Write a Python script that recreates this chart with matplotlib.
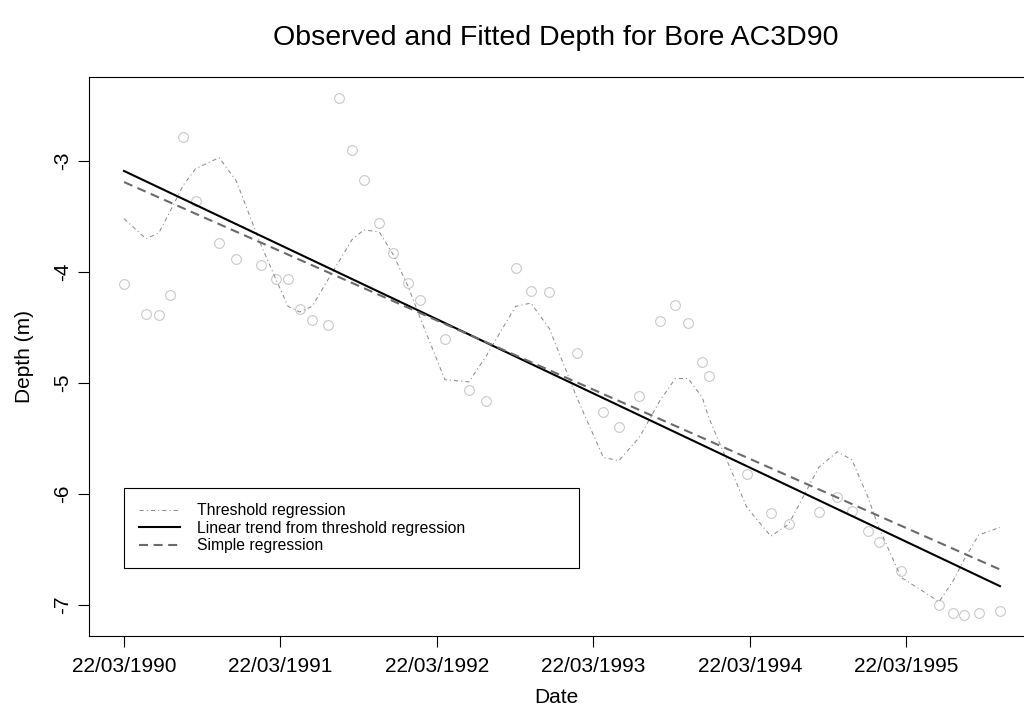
import numpy as np
import pandas as pd
import matplotlib
matplotlib.use('Agg')
import matplotlib.pyplot as plt
import matplotlib.dates as mdates

plt.rcParams['font.family'] = ['Liberation Sans', 'DejaVu Sans']
plt.rcParams['lines.scale_dashes'] = False

# observed depths for bore AC3D90
obs_dates = ['1990-03-22', '1990-05-12', '1990-06-11', '1990-07-08', '1990-08-07',
             '1990-09-05', '1990-10-30', '1990-12-09', '1991-02-04', '1991-03-11',
             '1991-04-09', '1991-05-06', '1991-06-04', '1991-07-11', '1991-08-05',
             '1991-09-05', '1991-10-03', '1991-11-08', '1991-12-10', '1992-01-13',
             '1992-02-10', '1992-04-09', '1992-06-04', '1992-07-14', '1992-09-21',
             '1992-10-27', '1992-12-09', '1993-02-11', '1993-04-14', '1993-05-20',
             '1993-07-07', '1993-08-24', '1993-09-29', '1993-10-29', '1993-12-01',
             '1993-12-16', '1994-03-15', '1994-05-10', '1994-06-21', '1994-08-30',
             '1994-10-12', '1994-11-15', '1994-12-23', '1995-01-17', '1995-03-10',
             '1995-06-07', '1995-07-10', '1995-08-03', '1995-09-07', '1995-10-27']
obs_depth = [-4.11, -4.38, -4.39, -4.21, -2.78, -3.36, -3.74, -3.88, -3.94, -4.06,
             -4.06, -4.33, -4.43, -4.48, -2.43, -2.90, -3.17, -3.56, -3.83, -4.10,
             -4.25, -4.60, -5.06, -5.16, -3.96, -4.17, -4.18, -4.73, -5.26, -5.40,
             -5.12, -4.44, -4.30, -4.46, -4.81, -4.94, -5.82, -6.17, -6.27, -6.16,
             -6.03, -6.15, -6.33, -6.43, -6.69, -7.00, -7.07, -7.09, -7.07, -7.05]

# fitted values from the threshold regression (seasonal + trend)
thresh_fit = [-3.52, -3.70, -3.65, -3.45, -3.22, -3.07, -2.97, -3.18, -3.75, -4.06,
              -4.31, -4.36, -4.31, -4.07, -3.91, -3.71, -3.62, -3.64, -3.84, -4.12,
              -4.40, -4.97, -4.99, -4.76, -4.31, -4.28, -4.51, -5.13, -5.67, -5.70,
              -5.49, -5.16, -4.96, -4.96, -5.13, -5.31, -6.12, -6.38, -6.27, -5.76,
              -5.62, -5.69, -6.03, -6.30, -6.75, -6.97, -6.78, -6.60, -6.37, -6.30]

# straight lines, values at first and last observation date
trend_ends = [-3.09, -6.83]
simple_ends = [-3.19, -6.68]

tick_dates = ['1990-03-22', '1991-03-22', '1992-03-22',
              '1993-03-22', '1994-03-22', '1995-03-22']
y_ticks = [-3, -4, -5, -6, -7]

t = pd.to_datetime(obs_dates)
x = mdates.date2num(t)
x_ends = [x[0], x[-1]]

fig = plt.figure(figsize=(10.24, 7.22), dpi=100)
W, H = 1024.0, 722.0
# plot region runs past the right edge of the device
ax = fig.add_axes([89 / W, (H - 635.7) / H, 946 / W, 558.7 / H])

ax.plot(x, obs_depth, linestyle='none', marker='o', markersize=7.0,
        markerfacecolor='none', markeredgecolor='#c8c8c8', markeredgewidth=0.8)
ax.plot(x, thresh_fit, color='#8c8c8c', linewidth=0.75,
        dashes=(3.0, 2.2, 0.8, 2.2), label='Threshold regression')
ax.plot(x_ends, trend_ends, color='black', linewidth=1.5,
        label='Linear trend from threshold regression')
ax.plot(x_ends, simple_ends, color='#6a6a6a', linewidth=1.5,
        dashes=(6.5, 4.0), label='Simple regression')

# R style 4% padding on both axes
xr = x[-1] - x[0]
ax.set_xlim(x[0] - 0.04 * xr, x[-1] + 0.04 * xr)
yr = max(obs_depth) - min(obs_depth)
ax.set_ylim(min(obs_depth) - 0.04 * yr, max(obs_depth) + 0.04 * yr)

ax.set_xticks(mdates.date2num(pd.to_datetime(tick_dates)))
ax.xaxis.set_major_formatter(mdates.DateFormatter('%d/%m/%Y'))
ax.set_yticks(y_ticks)
ax.set_yticklabels([str(v) for v in y_ticks])
ax.tick_params(axis='both', direction='out', length=8, width=0.8,
               labelsize=15, color='black')
ax.tick_params(axis='x', pad=7)
ax.tick_params(axis='y', pad=4, labelrotation=90)
for lab in ax.get_yticklabels():
    lab.set_va('center')

for s in ax.spines.values():
    s.set_linewidth(0.8)
    s.set_color('black')
ax.spines['right'].set_visible(False)

ax.set_xlabel('Date', fontsize=15, labelpad=9)
ax.xaxis.label.set_x((556 - 89) / 946)
ax.set_ylabel('Depth (m)', fontsize=15, labelpad=14)

fig.text(556 / W, 1 - 38 / H, 'Observed and Fitted Depth for Bore AC3D90',
         fontsize=20.5, ha='center', va='center')

# legend box anchored at the first date, depth -6
x0 = (124.3 - 89) / 946
leg = ax.legend(loc='upper left', mode='expand',
                bbox_to_anchor=(x0, 0.2536, (579.3 - 124.3) / 946, 0.01),
                bbox_transform=ax.transAxes, borderaxespad=0,
                fontsize=11.3, frameon=True, fancybox=False, shadow=False,
                edgecolor='black', framealpha=1, borderpad=0.95,
                labelspacing=0.15, handlelength=2.6, handletextpad=1.1)
leg.get_frame().set_linewidth(0.8)

fig.savefig('out.png', dpi=100)
